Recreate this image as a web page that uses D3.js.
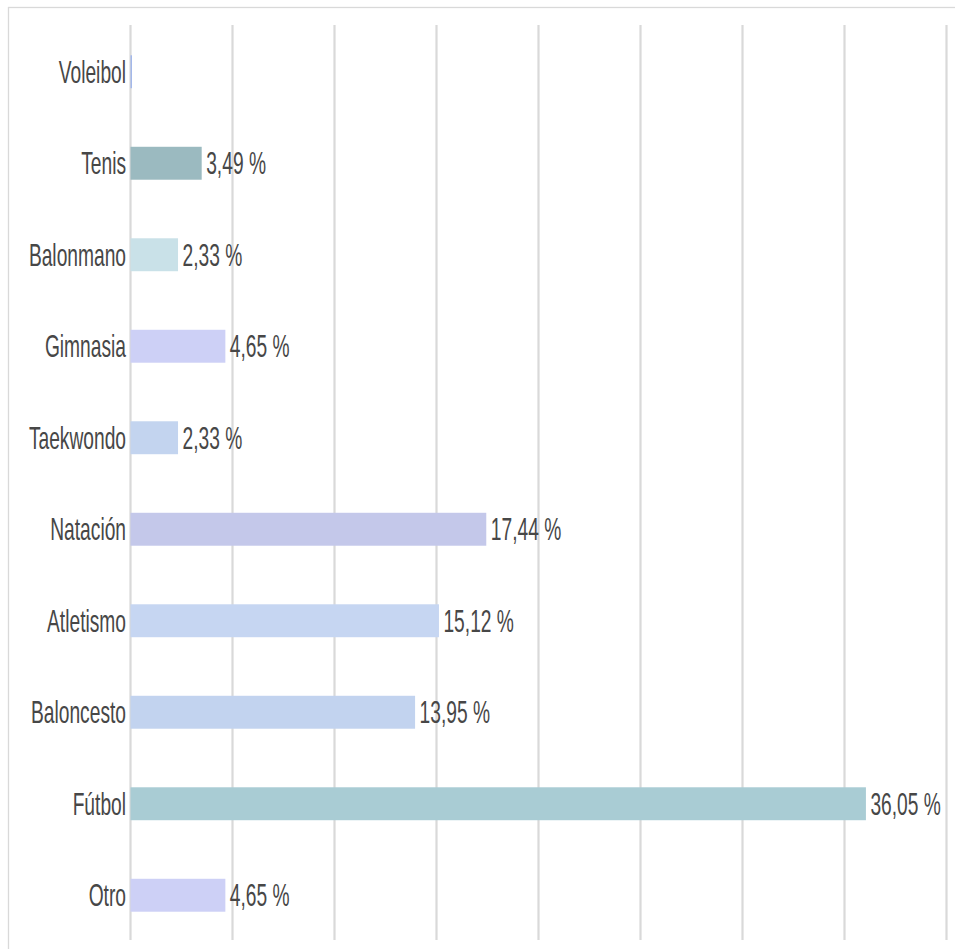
<!DOCTYPE html>
<html>
<head>
<meta charset="utf-8">
<script src="https://cdn.jsdelivr.net/npm/d3@7"></script>
<style>
  html, body { margin: 0; padding: 0; background: #fff; }
  svg { display: block; }
</style>
</head>
<body>
<svg id="chart" width="955" height="949"></svg>
<script>
const categories = ["Voleibol", "Tenis", "Balonmano", "Gimnasia", "Taekwondo", "Natación", "Atletismo", "Baloncesto", "Fútbol", "Otro"];
const values = [0.06, 3.49, 2.33, 4.65, 2.33, 17.44, 15.12, 13.95, 36.05, 4.65];
const valueLabels = ["", "3,49 %", "2,33 %", "4,65 %", "2,33 %", "17,44 %", "15,12 %", "13,95 %", "36,05 %", "4,65 %"];
const colors = ["#a3b8ea", "#9bbac0", "#c9e1e8", "#cdd0f6", "#c3d4ef", "#c4c8ea", "#c6d6f2", "#c2d3ef", "#a9ccd4", "#cdd0f6"];
const gridTicks = [0, 5, 10, 15, 20, 25, 30, 35, 40];

const svg = d3.select("#chart");
const x = d3.scaleLinear().domain([0, 40]).range([130.5, 946.5]);
const y = d3.scaleBand().domain(categories).range([26, 941]).paddingInner(0.64).paddingOuter(0.32);

const font = "'Liberation Sans', Arial, sans-serif";
const textColor = "#474747";
const sy = 1.6;
const fs = 19.2;

// chart frame
svg.append("rect")
  .attr("x", 8.5).attr("y", 7.5)
  .attr("width", 1000).attr("height", 1000)
  .attr("fill", "none").attr("stroke", "#d9d9d9").attr("stroke-width", 1.3);

// gridlines
svg.append("g").selectAll("line").data(gridTicks).join("line")
  .attr("x1", d => x(d)).attr("x2", d => x(d))
  .attr("y1", 25).attr("y2", 940)
  .attr("stroke", "#d9d9d9").attr("stroke-width", 2.2);

// bars
svg.append("g").selectAll("rect").data(categories).join("rect")
  .attr("x", x(0))
  .attr("y", d => y(d))
  .attr("width", (d, i) => Math.max(1.5, x(values[i]) - x(0)))
  .attr("height", y.bandwidth())
  .attr("fill", (d, i) => colors[i]);

// category labels
svg.append("g").selectAll("text").data(categories).join("text")
  .attr("transform", d => `translate(${x(0) - 4.5},${y(d) + y.bandwidth() / 2}) scale(1,${sy})`)
  .attr("text-anchor", "end")
  .attr("dy", "0.35em")
  .attr("font-family", font)
  .attr("font-size", fs)
  .attr("fill", textColor)
  .text(d => d);

// value labels
svg.append("g").selectAll("text").data(categories).join("text")
  .attr("transform", (d, i) => `translate(${x(values[i]) + 4.5},${y(d) + y.bandwidth() / 2}) scale(1,${sy})`)
  .attr("text-anchor", "start")
  .attr("dy", "0.35em")
  .attr("font-family", font)
  .attr("font-size", fs)
  .attr("fill", textColor)
  .text((d, i) => valueLabels[i]);
</script>
</body>
</html>
